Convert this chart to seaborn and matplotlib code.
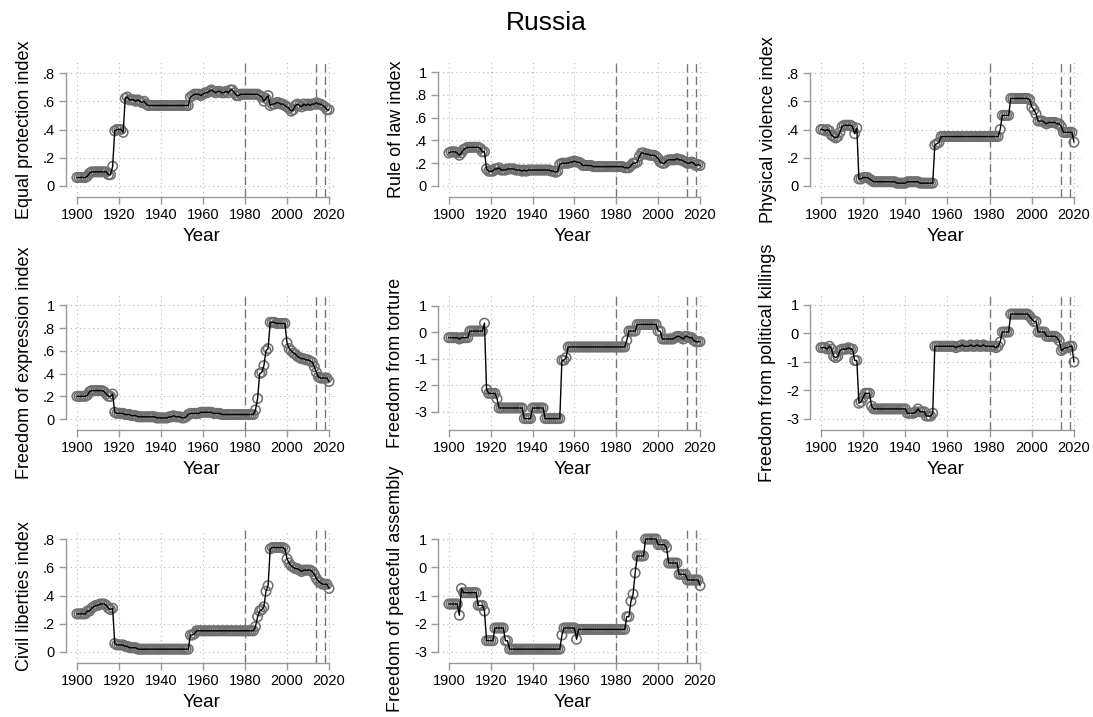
import numpy as np
import pandas as pd
import matplotlib
matplotlib.use("Agg")
import matplotlib.pyplot as plt
import seaborn as sns

years = list(range(1900, 2021))

equal_protection = [
    0.06, 0.06, 0.06, 0.06, 0.06, 0.07, 0.09, 0.10, 0.10, 0.10,
    0.10, 0.10, 0.10, 0.10, 0.10, 0.08, 0.08, 0.14, 0.39, 0.40,
    0.40, 0.40, 0.38, 0.62, 0.63, 0.61, 0.61, 0.61, 0.60, 0.61,
    0.60, 0.59, 0.60, 0.58, 0.57, 0.57, 0.57, 0.57, 0.57, 0.57,
    0.57, 0.57, 0.57, 0.57, 0.57, 0.57, 0.57, 0.57, 0.57, 0.57,
    0.57, 0.57, 0.57, 0.57, 0.63, 0.64, 0.65, 0.65, 0.65, 0.64,
    0.65, 0.66, 0.66, 0.67, 0.68, 0.67, 0.66, 0.67, 0.67, 0.66,
    0.66, 0.67, 0.66, 0.68, 0.68, 0.66, 0.64, 0.64, 0.65, 0.65,
    0.65, 0.65, 0.65, 0.65, 0.65, 0.65, 0.65, 0.64, 0.63, 0.60,
    0.62, 0.64, 0.57, 0.58, 0.58, 0.59, 0.59, 0.58, 0.58, 0.57,
    0.56, 0.55, 0.53, 0.54, 0.57, 0.58, 0.57, 0.56, 0.58, 0.57,
    0.58, 0.57, 0.58, 0.58, 0.59, 0.58, 0.58, 0.57, 0.56, 0.54,
    0.54]

rule_of_law = [
    0.29, 0.30, 0.30, 0.30, 0.29, 0.27, 0.29, 0.32, 0.33, 0.34,
    0.34, 0.34, 0.34, 0.34, 0.34, 0.33, 0.30, 0.30, 0.15, 0.13,
    0.13, 0.13, 0.15, 0.15, 0.16, 0.14, 0.14, 0.14, 0.15, 0.15,
    0.15, 0.15, 0.14, 0.14, 0.14, 0.13, 0.14, 0.13, 0.14, 0.14,
    0.14, 0.14, 0.14, 0.14, 0.14, 0.14, 0.14, 0.14, 0.14, 0.13,
    0.13, 0.12, 0.13, 0.19, 0.20, 0.20, 0.20, 0.20, 0.21, 0.21,
    0.22, 0.21, 0.21, 0.20, 0.18, 0.18, 0.18, 0.18, 0.18, 0.17,
    0.17, 0.17, 0.17, 0.17, 0.17, 0.17, 0.17, 0.17, 0.17, 0.17,
    0.17, 0.17, 0.17, 0.17, 0.16, 0.16, 0.16, 0.18, 0.20, 0.20,
    0.21, 0.26, 0.29, 0.29, 0.28, 0.28, 0.27, 0.27, 0.27, 0.26,
    0.24, 0.21, 0.20, 0.20, 0.22, 0.23, 0.23, 0.23, 0.23, 0.24,
    0.23, 0.23, 0.22, 0.21, 0.20, 0.20, 0.21, 0.20, 0.18, 0.19,
    0.18]

physical_violence = [
    0.40, 0.40, 0.39, 0.40, 0.39, 0.36, 0.35, 0.34, 0.35, 0.38,
    0.42, 0.43, 0.43, 0.43, 0.43, 0.42, 0.37, 0.41, 0.05, 0.05,
    0.06, 0.06, 0.06, 0.05, 0.04, 0.03, 0.03, 0.03, 0.03, 0.03,
    0.03, 0.03, 0.03, 0.03, 0.03, 0.03, 0.02, 0.02, 0.02, 0.02,
    0.02, 0.03, 0.03, 0.03, 0.03, 0.03, 0.03, 0.02, 0.02, 0.02,
    0.02, 0.02, 0.02, 0.02, 0.29, 0.30, 0.31, 0.35, 0.35, 0.35,
    0.35, 0.35, 0.35, 0.35, 0.35, 0.35, 0.35, 0.35, 0.35, 0.35,
    0.35, 0.35, 0.35, 0.35, 0.35, 0.35, 0.35, 0.35, 0.35, 0.35,
    0.35, 0.35, 0.35, 0.35, 0.35, 0.40, 0.50, 0.50, 0.50, 0.50,
    0.62, 0.62, 0.62, 0.62, 0.62, 0.62, 0.62, 0.62, 0.62, 0.61,
    0.56, 0.54, 0.51, 0.46, 0.46, 0.46, 0.45, 0.44, 0.45, 0.45,
    0.45, 0.45, 0.44, 0.44, 0.42, 0.38, 0.38, 0.38, 0.38, 0.38,
    0.31]

freedom_expression = [
    0.20, 0.20, 0.20, 0.20, 0.20, 0.21, 0.24, 0.25, 0.25, 0.25,
    0.25, 0.25, 0.25, 0.24, 0.22, 0.20, 0.20, 0.22, 0.06, 0.05,
    0.05, 0.05, 0.05, 0.04, 0.04, 0.04, 0.03, 0.03, 0.03, 0.02,
    0.02, 0.02, 0.02, 0.02, 0.02, 0.02, 0.02, 0.02, 0.01, 0.01,
    0.01, 0.01, 0.01, 0.01, 0.02, 0.02, 0.03, 0.02, 0.02, 0.02,
    0.01, 0.01, 0.02, 0.04, 0.05, 0.05, 0.05, 0.05, 0.05, 0.06,
    0.06, 0.06, 0.06, 0.06, 0.06, 0.05, 0.05, 0.05, 0.05, 0.04,
    0.04, 0.04, 0.04, 0.04, 0.04, 0.04, 0.04, 0.04, 0.04, 0.04,
    0.04, 0.04, 0.04, 0.04, 0.04, 0.08, 0.18, 0.40, 0.41, 0.47,
    0.60, 0.62, 0.85, 0.85, 0.85, 0.84, 0.84, 0.84, 0.84, 0.84,
    0.67, 0.62, 0.60, 0.58, 0.57, 0.55, 0.54, 0.53, 0.53, 0.52,
    0.52, 0.51, 0.50, 0.46, 0.41, 0.37, 0.36, 0.36, 0.36, 0.36,
    0.33]

freedom_torture = [
    -0.20, -0.20, -0.20, -0.20, -0.20, -0.25, -0.20, -0.20, -0.20, -0.20,
    0.05, 0.05, 0.05, 0.05, 0.05, 0.05, 0.05, 0.35, -2.15, -2.30,
    -2.30, -2.30, -2.30, -2.50, -2.85, -2.85, -2.85, -2.85, -2.85, -2.85,
    -2.85, -2.85, -2.85, -2.85, -2.85, -2.85, -3.25, -3.25, -3.25, -3.25,
    -2.85, -2.85, -2.85, -2.85, -2.85, -2.85, -3.25, -3.25, -3.25, -3.25,
    -3.25, -3.25, -3.25, -3.25, -1.05, -1.05, -0.95, -0.55, -0.55, -0.55,
    -0.55, -0.55, -0.55, -0.55, -0.55, -0.55, -0.55, -0.55, -0.55, -0.55,
    -0.55, -0.55, -0.55, -0.55, -0.55, -0.55, -0.55, -0.55, -0.55, -0.55,
    -0.55, -0.55, -0.55, -0.55, -0.55, -0.30, 0.05, 0.05, 0.05, 0.05,
    0.30, 0.30, 0.30, 0.30, 0.30, 0.30, 0.30, 0.30, 0.30, 0.30,
    0.05, 0.05, -0.25, -0.25, -0.25, -0.25, -0.25, -0.25, -0.20, -0.15,
    -0.15, -0.20, -0.25, -0.15, -0.15, -0.20, -0.20, -0.30, -0.35, -0.35,
    -0.35]

political_killings = [
    -0.50, -0.50, -0.50, -0.55, -0.45, -0.55, -0.80, -0.85, -0.80, -0.60,
    -0.55, -0.55, -0.55, -0.50, -0.55, -0.55, -0.95, -0.95, -2.45, -2.40,
    -2.25, -2.10, -2.10, -2.10, -2.55, -2.65, -2.65, -2.65, -2.65, -2.65,
    -2.65, -2.65, -2.65, -2.65, -2.65, -2.65, -2.65, -2.65, -2.65, -2.65,
    -2.65, -2.80, -2.80, -2.80, -2.80, -2.75, -2.65, -2.75, -2.75, -2.75,
    -2.90, -2.90, -2.90, -2.80, -0.45, -0.45, -0.45, -0.45, -0.45, -0.45,
    -0.45, -0.45, -0.45, -0.45, -0.50, -0.45, -0.45, -0.40, -0.45, -0.45,
    -0.45, -0.40, -0.45, -0.45, -0.40, -0.45, -0.45, -0.40, -0.45, -0.45,
    -0.45, -0.45, -0.45, -0.50, -0.45, -0.30, 0.05, 0.05, 0.05, 0.05,
    0.68, 0.68, 0.68, 0.68, 0.68, 0.68, 0.68, 0.68, 0.68, 0.60,
    0.50, 0.42, 0.42, 0.05, 0.05, 0.05, 0.05, -0.10, -0.10, -0.10,
    -0.10, -0.10, -0.15, -0.25, -0.60, -0.55, -0.50, -0.50, -0.45, -0.45,
    -1.00]

civil_liberties = [
    0.27, 0.27, 0.27, 0.27, 0.27, 0.29, 0.29, 0.31, 0.32, 0.33,
    0.33, 0.34, 0.34, 0.34, 0.33, 0.31, 0.30, 0.31, 0.06, 0.05,
    0.05, 0.05, 0.05, 0.04, 0.04, 0.03, 0.03, 0.03, 0.03, 0.02,
    0.02, 0.02, 0.02, 0.02, 0.02, 0.02, 0.02, 0.02, 0.02, 0.02,
    0.02, 0.02, 0.02, 0.02, 0.02, 0.02, 0.02, 0.02, 0.02, 0.02,
    0.02, 0.02, 0.02, 0.02, 0.12, 0.12, 0.13, 0.15, 0.15, 0.15,
    0.15, 0.15, 0.15, 0.15, 0.15, 0.15, 0.15, 0.15, 0.15, 0.15,
    0.15, 0.15, 0.15, 0.15, 0.15, 0.15, 0.15, 0.15, 0.15, 0.15,
    0.15, 0.15, 0.15, 0.15, 0.15, 0.18, 0.25, 0.29, 0.30, 0.32,
    0.43, 0.47, 0.73, 0.74, 0.74, 0.74, 0.74, 0.74, 0.74, 0.73,
    0.66, 0.63, 0.61, 0.60, 0.59, 0.59, 0.58, 0.57, 0.58, 0.58,
    0.58, 0.58, 0.57, 0.55, 0.52, 0.50, 0.49, 0.48, 0.48, 0.48,
    0.45]

peaceful_assembly = [
    -1.30, -1.30, -1.30, -1.30, -1.30, -1.70, -0.75, -0.90, -0.90, -0.90,
    -0.90, -0.90, -0.90, -0.90, -1.35, -1.35, -1.35, -1.55, -2.60, -2.60,
    -2.60, -2.60, -2.15, -2.15, -2.15, -2.15, -2.15, -2.60, -2.60, -2.90,
    -2.90, -2.90, -2.90, -2.90, -2.90, -2.90, -2.90, -2.90, -2.90, -2.90,
    -2.90, -2.90, -2.90, -2.90, -2.90, -2.90, -2.90, -2.90, -2.90, -2.90,
    -2.90, -2.90, -2.90, -2.90, -2.40, -2.15, -2.15, -2.15, -2.15, -2.15,
    -2.15, -2.55, -2.20, -2.20, -2.20, -2.20, -2.20, -2.20, -2.20, -2.20,
    -2.20, -2.20, -2.20, -2.20, -2.20, -2.20, -2.20, -2.20, -2.20, -2.20,
    -2.20, -2.20, -2.20, -2.20, -2.20, -1.75, -1.75, -1.20, -0.95, -0.20,
    0.40, 0.40, 0.40, 0.40, 1.00, 1.00, 1.00, 1.00, 1.00, 1.00,
    0.80, 0.80, 0.80, 0.80, 0.70, 0.15, 0.15, 0.15, 0.15, 0.15,
    -0.25, -0.25, -0.25, -0.25, -0.45, -0.45, -0.45, -0.45, -0.45, -0.45,
    -0.65]

event_years = [1980, 2014, 2018]
x_ticks = [1900, 1920, 1940, 1960, 1980, 2000, 2020]

sns.set_style("white")
plt.rcParams['font.family'] = ['Liberation Sans', 'DejaVu Sans']
plt.rcParams['text.color'] = 'black'
plt.rcParams['axes.labelcolor'] = 'black'
plt.rcParams['xtick.color'] = 'black'
plt.rcParams['ytick.color'] = 'black'

W, H = 1093, 717
fig = plt.figure(figsize=(W / 100, H / 100), dpi=100)

def stata_fmt(v):
    s = f"{v:g}"
    if s.startswith("0."):
        s = s[1:]
    elif s.startswith("-0."):
        s = "-" + s[2:]
    return s

# (values, label, yticks, ylim, pixel box left, top, right, bottom)
panels = [
    (equal_protection, "Equal protection index", [0, .2, .4, .6, .8], (-0.078, 0.878), (66, 62, 337, 197)),
    (rule_of_law, "Rule of law index", [0, .2, .4, .6, .8, 1], (-0.097, 1.09), (438, 62, 708, 197)),
    (physical_violence, "Physical violence index", [0, .2, .4, .6, .8], (-0.078, 0.878), (810, 62, 1082, 197)),
    (freedom_expression, "Freedom of expression index", [0, .2, .4, .6, .8, 1], (-0.096, 1.09), (66, 295, 337, 430)),
    (freedom_torture, "Freedom from torture", [-3, -2, -1, 0, 1], (-3.68, 1.41), (438, 295, 708, 430)),
    (political_killings, "Freedom from political killings", [-3, -2, -1, 0, 1], (-3.39, 1.35), (810, 295, 1082, 430)),
    (civil_liberties, "Civil liberties index", [0, .2, .4, .6, .8], (-0.078, 0.864), (66, 530, 337, 663)),
    (peaceful_assembly, "Freedom of peaceful assembly", [-3, -2, -1, 0, 1], (-3.39, 1.32), (438, 530, 708, 663)),
]

for vals, label, yt, ylim, (l, t, r, b) in panels:
    ax = fig.add_axes([l / W, 1 - b / H, (r - l) / W, (b - t) / H])
    df = pd.DataFrame({"Year": years, "value": vals})

    ax.grid(True, linestyle=(0, (1, 3)), color="#bbbbbb", linewidth=0.8)
    for ey in event_years:
        ax.axvline(ey, color="#777777", linestyle=(0, (6, 3)), linewidth=1, zorder=2)

    sns.scatterplot(data=df, x="Year", y="value", ax=ax, marker="o", s=46,
                    facecolor="none", edgecolor="#707070", linewidth=1.15, zorder=3)
    sns.lineplot(data=df, x="Year", y="value", ax=ax, color="black", linewidth=1, zorder=4)

    ax.set_xlim(1894.8, 2023.8)
    ax.set_ylim(*ylim)
    ax.set_xticks(x_ticks)
    ax.set_yticks(yt)
    ax.set_yticklabels([stata_fmt(v) for v in yt])
    ax.set_xlabel("Year", fontsize=13.5, labelpad=4)
    ax.set_ylabel(label, fontsize=13, labelpad=7)
    if b > 600 and len(label) > 25:
        # keep the long bottom label inside the figure
        ax.yaxis.label.set_y(0.56)
    ax.tick_params(axis="both", labelsize=10.5, length=5, width=1, color="#999999",
                   direction="out", pad=3, left=True, bottom=True)
    for s in ["top", "right"]:
        ax.spines[s].set_visible(False)
    for s in ["left", "bottom"]:
        ax.spines[s].set_color("#999999")
        ax.spines[s].set_linewidth(1)
    ax.spines["left"].set_bounds(yt[0], yt[-1])
    ax.spines["bottom"].set_bounds(x_ticks[0], x_ticks[-1])

fig.text(546 / W, 1 - 23 / H, "Russia", ha="center", va="center", fontsize=19)

fig.savefig("out.png", dpi=100)
